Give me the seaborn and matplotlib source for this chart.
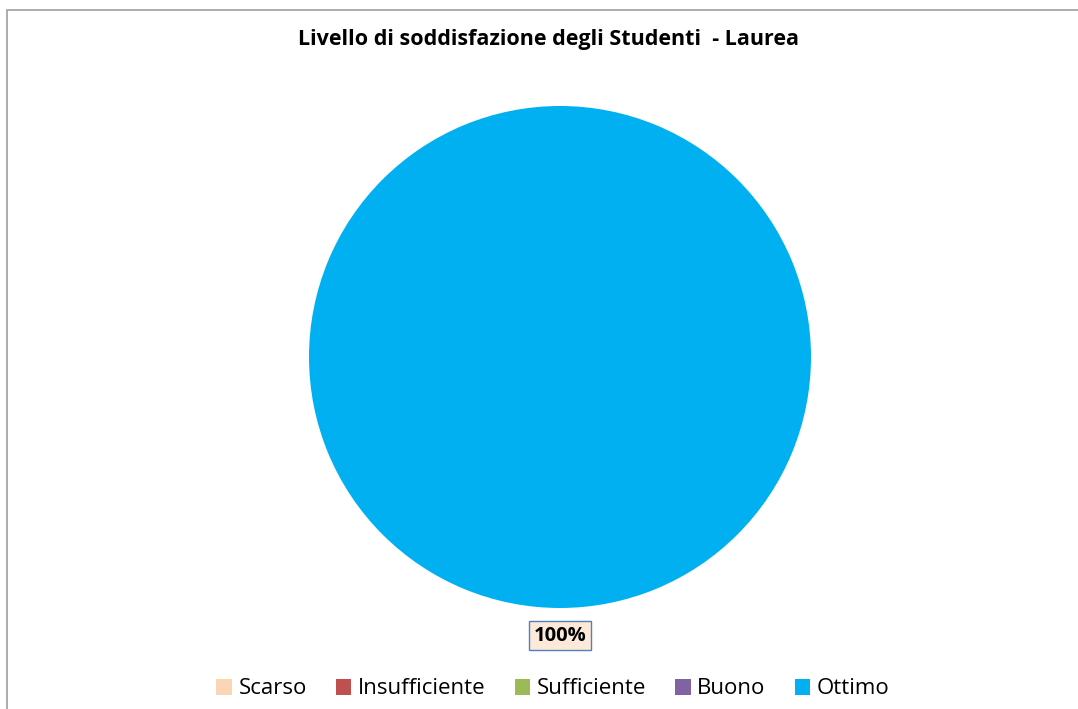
import matplotlib
matplotlib.use("Agg")
import matplotlib.pyplot as plt
import seaborn as sns
from matplotlib.patches import Rectangle
import numpy as np

categories = ["Scarso", "Insufficiente", "Sufficiente", "Buono", "Ottimo"]
values = [0, 0, 0, 0, 100]
colors = ["#FCD5B5", "#C0504D", "#9BBB59", "#8064A2", "#00B0F0"]
title = "Livello di soddisfazione degli Studenti  - Laurea"

sns.set_theme(style="white")
sns.set_palette(colors)
plt.rcParams['font.family'] = ['Open Sans', 'DejaVu Sans']

W, H = 1078, 709
fig = plt.figure(figsize=(W / 100, H / 100), dpi=100)

# border
fig.patches.append(Rectangle((7 / W, -0.05), 1.1, (H - 10) / H + 0.05, transform=fig.transFigure,
                             fill=False, edgecolor="#A6A6A6", linewidth=1.3))

cx, cy, r = 560, 357, 251
ax = fig.add_axes([(cx - r) / W, (H - cy - r) / H, 2 * r / W, 2 * r / H])
wedges, _ = ax.pie(values, colors=colors, startangle=90, counterclock=False, radius=1,
                   wedgeprops=dict(linewidth=0))
ax.set_xlim(-1, 1)
ax.set_ylim(-1, 1)
ax.set_aspect("equal")
ax.axis("off")

total = sum(values)
for w, v in zip(wedges, values):
    if v <= 0:
        continue
    ang = 270.0
    if v < total:
        ang = (w.theta1 + w.theta2) / 2
    x = 1.11 * np.cos(np.radians(ang))
    y = 1.11 * np.sin(np.radians(ang))
    ax.text(x, y, f"{v / total * 100:.0f}%", ha="center", va="center", fontsize=14.5,
            fontweight="bold", color="black", clip_on=False,
            bbox=dict(boxstyle="square,pad=0.22", facecolor="#FDE9D9", edgecolor="#4F81BD", linewidth=1))

fig.text(548 / W, 1 - 40 / H, title, ha="center", va="center", fontsize=15.5, fontweight="bold",
         color="black")

fig.legend(wedges, categories, loc="center", bbox_to_anchor=(553 / W, 1 - 689 / H), ncol=5,
           frameon=False, fontsize=16, handlelength=0.7, handleheight=0.7,
           handletextpad=0.3, columnspacing=1.3, labelcolor="black")

fig.savefig("out.png", dpi=100)
